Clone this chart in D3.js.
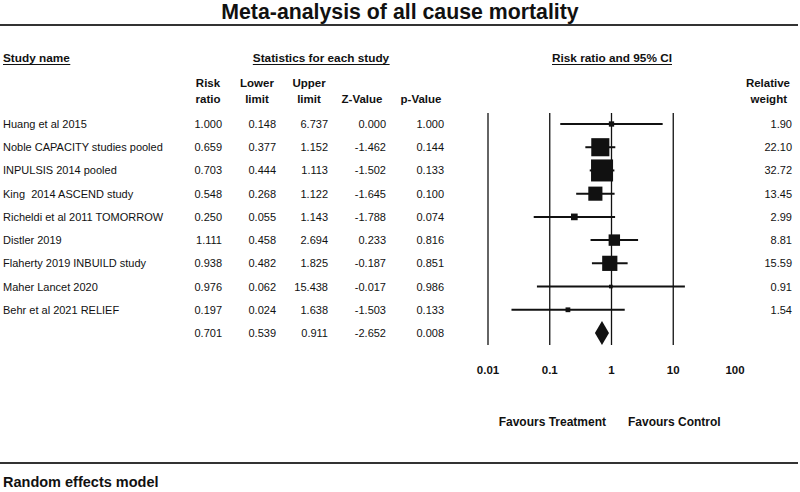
<!DOCTYPE html>
<html><head><meta charset="utf-8">
<script src="https://cdn.jsdelivr.net/npm/d3@7/dist/d3.min.js"></script>
<style>
html,body{margin:0;padding:0;background:#fff;}
text{font-family:"Liberation Sans",Arial,sans-serif;fill:#111;white-space:pre;}
</style></head>
<body>
<svg id="chart" width="800" height="492"></svg>
<script>
const titleText = "Meta-analysis of all cause mortality";
const studies = ["Huang et al 2015","Noble CAPACITY studies pooled","INPULSIS 2014 pooled","King  2014 ASCEND study","Richeldi et al 2011 TOMORROW","Distler 2019","Flaherty 2019 INBUILD study","Maher Lancet 2020","Behr et al 2021 RELIEF"];
const riskRatio = [1.000,0.659,0.703,0.548,0.250,1.111,0.938,0.976,0.197];
const lowerLimit = [0.148,0.377,0.444,0.268,0.055,0.458,0.482,0.062,0.024];
const upperLimit = [6.737,1.152,1.113,1.122,1.143,2.694,1.825,15.438,1.638];
const zValue = [0.000,-1.462,-1.502,-1.645,-1.788,0.233,-0.187,-0.017,-1.503];
const pValue = [1.000,0.144,0.133,0.100,0.074,0.816,0.851,0.986,0.133];
const relWeight = [1.90,22.10,32.72,13.45,2.99,8.81,15.59,0.91,1.54];
const summary = {rr:0.701, lower:0.539, upper:0.911, z:-2.652, p:0.008};
const axisTicks = [0.01,0.1,1,10,100];
const gridTicks = [0.01,0.1,1,10];
const modelLabel = "Random effects model";

const svg = d3.select("#chart");

// title and rules
svg.append("text").attr("x",400).attr("y",19).attr("text-anchor","middle")
  .attr("font-size",21.3).attr("font-weight","bold").text(titleText);
svg.append("line").attr("x1",0).attr("x2",798).attr("y1",25).attr("y2",25)
  .attr("stroke","#333").attr("stroke-width",2);
svg.append("line").attr("x1",0).attr("x2",798).attr("y1",463).attr("y2",463)
  .attr("stroke","#333").attr("stroke-width",2);
svg.append("text").attr("x",3).attr("y",487).attr("font-size",14.5).attr("font-weight","bold").text(modelLabel);

// scales
const x = d3.scaleLog().domain([0.01,100]).range([488,735]);
const rowIdx = d3.range(studies.length + 1);
const y = d3.scalePoint().domain(rowIdx).range([124,333]);
const size = d3.scaleSqrt().domain([0,1]).range([0,3.85]);

// section headers (underlined)
function underlined(txt, xx, yy, anchor){
  const t = svg.append("text").attr("x",xx).attr("y",yy).attr("text-anchor",anchor)
    .attr("font-size",11.8).attr("font-weight","bold").text(txt);
  const bb = t.node().getBBox();
  svg.append("line").attr("x1",bb.x).attr("x2",bb.x+bb.width).attr("y1",yy+2.5).attr("y2",yy+2.5)
    .attr("stroke","#111").attr("stroke-width",1);
}
underlined("Study name",3,62,"start");
underlined("Statistics for each study",321,62,"middle");
underlined("Risk ratio and 95% CI",612,62,"middle");

// columns
const fmt = d => d3.format(".3f")(d).replace("−","-");
const cols = [
  {c:208, r:222, h:["Risk","ratio"], vals:riskRatio, s:summary.rr},
  {c:257, r:276, h:["Lower","limit"], vals:lowerLimit, s:summary.lower},
  {c:309, r:328, h:["Upper","limit"], vals:upperLimit, s:summary.upper},
  {c:362, r:386, h:["Z-Value"], vals:zValue, s:summary.z},
  {c:421, r:444, h:["p-Value"], vals:pValue, s:summary.p}
];
cols.forEach(col => {
  col.h.forEach((h, k) => {
    svg.append("text").attr("x",col.c).attr("y",col.h.length === 2 ? (k === 0 ? 87 : 103) : 103)
      .attr("text-anchor","middle").attr("font-size",11.5).attr("font-weight","bold").text(h);
  });
  const all = col.vals.concat([col.s]);
  svg.selectAll(null).data(all).enter().append("text")
    .attr("x",col.r).attr("y",(d,i)=>y(i)+4).attr("text-anchor","end").attr("font-size",11)
    .text(fmt);
});
svg.append("text").attr("x",790).attr("y",87).attr("text-anchor","end").attr("font-size",11.5).attr("font-weight","bold").text("Relative");
svg.append("text").attr("x",787).attr("y",103).attr("text-anchor","end").attr("font-size",11.5).attr("font-weight","bold").text("weight");

// study names
svg.selectAll(null).data(studies).enter().append("text")
  .attr("x",3).attr("y",(d,i)=>y(i)+4).attr("font-size",11).text(d=>d);

// weights
svg.selectAll(null).data(relWeight).enter().append("text")
  .attr("x",792).attr("y",(d,i)=>y(i)+4).attr("text-anchor","end").attr("font-size",11)
  .text(d=>d3.format(".2f")(d));

// grid lines
svg.selectAll(null).data(gridTicks).enter().append("line")
  .attr("x1",d=>x(d)).attr("x2",d=>x(d)).attr("y1",113).attr("y2",345)
  .attr("stroke","#111").attr("stroke-width",1.3);

// CI lines
svg.selectAll(null).data(studies).enter().append("line")
  .attr("x1",(d,i)=>x(lowerLimit[i])).attr("x2",(d,i)=>x(upperLimit[i]))
  .attr("y1",(d,i)=>y(i)).attr("y2",(d,i)=>y(i))
  .attr("stroke","#111").attr("stroke-width",2);

// squares
svg.selectAll(null).data(studies).enter().append("rect")
  .attr("x",(d,i)=>x(riskRatio[i]) - size(relWeight[i])/2)
  .attr("y",(d,i)=>y(i) - size(relWeight[i])/2)
  .attr("width",(d,i)=>size(relWeight[i]))
  .attr("height",(d,i)=>size(relWeight[i]))
  .attr("fill","#111");

// summary diamond
const sy = y(studies.length);
svg.append("path")
  .attr("d",`M${x(summary.lower)},${sy} L${x(summary.rr)},${sy-12} L${x(summary.upper)},${sy} L${x(summary.rr)},${sy+12} Z`)
  .attr("fill","#111");

// axis labels
svg.selectAll(null).data(axisTicks).enter().append("text")
  .attr("x",d=>x(d)).attr("y",374).attr("text-anchor","middle")
  .attr("font-size",11.5).attr("font-weight","bold").text(d=>String(d));

// favours
svg.append("text").attr("x",606).attr("y",426).attr("text-anchor","end").attr("font-size",12).attr("font-weight","bold").text("Favours Treatment");
svg.append("text").attr("x",628).attr("y",426).attr("text-anchor","start").attr("font-size",12).attr("font-weight","bold").text("Favours Control");
</script>
</body></html>
